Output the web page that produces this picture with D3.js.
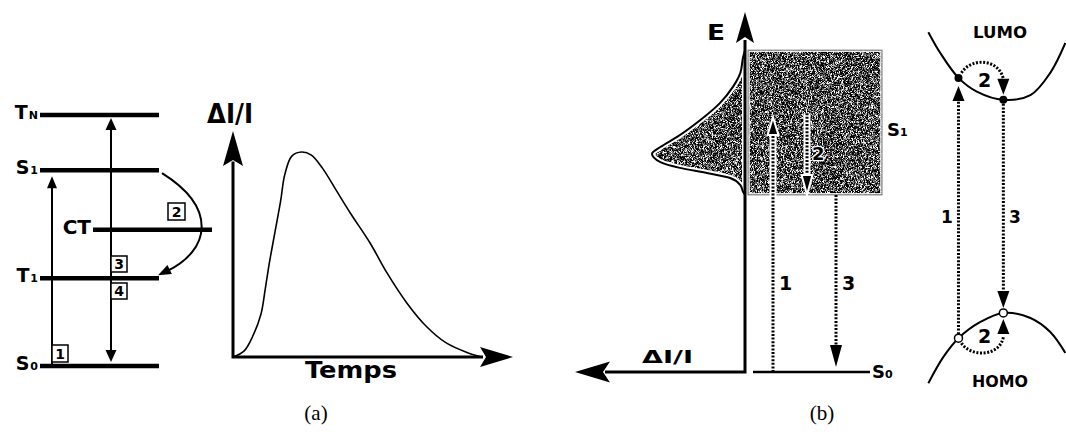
<!DOCTYPE html>
<html>
<head>
<meta charset="utf-8">
<script src="https://cdn.jsdelivr.net/npm/d3@7"></script>
<style>
  html, body { margin: 0; padding: 0; background: #fff; }
  svg { display: block; }
  text { font-family: "DejaVu Sans", sans-serif; font-weight: bold; fill: #000; }
  text.caption { font-family: "Liberation Serif", "DejaVu Serif", serif; font-weight: normal; }
</style>
</head>
<body>
<script>
// ---- (a) energy levels, relative to S0 ----
const levelNames = ["S0", "T1", "CT", "S1", "TN"];
const levelEnergy = [0, 1.40, 2.17, 3.12, 4.00];

// ---- (a) transient signal ΔI/I versus time ----
const transientTime   = [0, 0.4, 0.7, 1.0, 1.15, 1.3, 1.5, 1.7, 1.85, 2.1, 2.45, 2.8, 3.2, 3.7, 4.2, 4.9, 5.5, 6.2, 6.9, 7.6, 8.4, 8.9];
const transientSignal = [0, 0.03, 0.10, 0.21, 0.33, 0.46, 0.61, 0.76, 0.89, 0.98, 1.00, 0.985, 0.92, 0.81, 0.70, 0.555, 0.41, 0.265, 0.15, 0.07, 0.02, 0];

// ---- (b) S1 band and its ΔI/I profile ----
const bandEnergy    = [8.94, 8.75, 8.31, 7.92, 7.47, 7.00, 6.53, 6.25, 6.06, 5.83, 5.67, 5.53, 5.39, 5.19, 5.00, 4.92];
const bandIntensity = [0, 0.02, 0.05, 0.13, 0.27, 0.48, 0.73, 0.91, 1.00, 0.91, 0.70, 0.41, 0.16, 0.05, 0.02, 0];
const s1Band = [4.92, 8.94];
const s0Energy = 0;
// transitions 1 (excitation), 2 (relaxation), 3 (emission): [from, to]
const bandTransitions = [[0, 7.08], [7.19, 4.92], [4.92, 0]];

// ---- (b) LUMO / HOMO dispersion ----
const lumoK = [-2.19, -1.84, -1.31, -0.76, 0, 0.79, 1.37, 1.81];
const lumoE = [9.44, 8.86, 8.17, 7.78, 7.56, 7.69, 8.31, 9.14];
const homoK = [-2.19, -1.75, -1.31, -0.67, 0, 0.79, 1.37, 1.81];
const homoE = [-0.31, 0.42, 0.94, 1.39, 1.64, 1.50, 1.11, 0.53];
const excitationK = -1.31;
const emissionK = 0;

const W = 1066, H = 432;
const svg = d3.select("body").append("svg").attr("width", W).attr("height", H);
svg.append("rect").attr("width", W).attr("height", H).attr("fill", "#fff");

const defs = svg.append("defs");
const grain = defs.append("filter").attr("id", "grain")
  .attr("x", 0).attr("y", 0).attr("width", 1).attr("height", 1)
  .attr("color-interpolation-filters", "sRGB");
grain.append("feTurbulence").attr("type", "fractalNoise")
  .attr("baseFrequency", 2.2).attr("numOctaves", 1).attr("seed", 11).attr("result", "noise");
grain.append("feColorMatrix").attr("in", "noise").attr("type", "matrix")
  .attr("values", "4.2 0 0 0 -1.82  4.2 0 0 0 -1.82  4.2 0 0 0 -1.82  0 0 0 0 1").attr("result", "gray");
grain.append("feComposite").attr("in", "gray").attr("in2", "SourceAlpha").attr("operator", "in");

// filled arrowhead with its tip at (x, y), pointing along angle (degrees)
function head(g, x, y, angle, len, wid, notch, opts = {}) {
  g.append("path")
    .attr("d", `M0,0L${-len},${-wid / 2}L${-len + notch},0L${-len},${wid / 2}Z`)
    .attr("transform", `translate(${x},${y}) rotate(${angle})`)
    .attr("fill", opts.fill || "#000")
    .attr("stroke", opts.stroke || "none")
    .attr("stroke-width", opts.sw || 0);
}
function numberBox(g, x, y, w, h, label) {
  g.append("rect").attr("x", x).attr("y", y).attr("width", w).attr("height", h)
    .attr("fill", "#fff").attr("stroke", "#000").attr("stroke-width", 1.5);
  g.append("text").attr("x", x + w / 2).attr("y", y + h - 3).attr("text-anchor", "middle")
    .attr("font-size", 14).text(label);
}

// =================== (a) level diagram ===================
const gA = svg.append("g");
const yLevel = d3.scaleLinear().domain([0, 4]).range([366, 115]);
const levelSpan = { S0: [40, 159], T1: [40, 159], S1: [40, 159], TN: [40, 159], CT: [93, 212] };
const lv = {};
levelNames.forEach((n, i) => {
  const y = yLevel(levelEnergy[i]);
  lv[n] = y;
  const [x0, x1] = levelSpan[n];
  gA.append("line").attr("x1", x0).attr("x2", x1).attr("y1", y).attr("y2", y)
    .attr("stroke", "#000").attr("stroke-width", 4.5);
  const t = gA.append("text").attr("x", x0 - 2).attr("y", y + 4).attr("text-anchor", "end");
  if (n === "CT") {
    t.attr("font-size", 20).text("CT");
  } else {
    t.append("tspan").attr("font-size", 19).text(n[0]);
    t.append("tspan").attr("font-size", 11).attr("dx", 1).text(n.slice(1));
  }
});

// 1: S0 -> S1 absorption
gA.append("line").attr("x1", 52).attr("x2", 52).attr("y1", lv.S0 - 2).attr("y2", lv.S1 + 14)
  .attr("stroke", "#000").attr("stroke-width", 2);
head(gA, 52, lv.S1 + 6, -90, 12, 10, 0);
// 3/4: T1 -> TN and back to S0
gA.append("line").attr("x1", 111).attr("x2", 111).attr("y1", lv.TN + 12).attr("y2", lv.S0 - 14)
  .attr("stroke", "#000").attr("stroke-width", 2);
head(gA, 111, lv.TN + 3, -90, 12, 11, 0);
head(gA, 111, lv.S0 - 4, 90, 12, 11, 0);
// 2: S1 -> CT -> T1
gA.append("path")
  .attr("d", `M${levelSpan.S1[1] + 3},${lv.S1 + 3} C218,${lv.S1 + 38} 210,${lv.T1 - 28} 167,${lv.T1 - 7}`)
  .attr("fill", "none").attr("stroke", "#000").attr("stroke-width", 2);
head(gA, 158, lv.T1 - 3, 154, 13, 10, 0);

numberBox(gA, 52, 345, 16, 17, "1");
numberBox(gA, 168, 203, 17, 17, "2");
numberBox(gA, 111, 256, 16, 16, "3");
numberBox(gA, 111, 283, 16, 16, "4");

// =================== (a) transient ===================
const xT = d3.scaleLinear().domain([0, 10]).range([233, 513]);
const yT = d3.scaleLinear().domain([0, 1]).range([357, 152]);
gA.append("path")
  .attr("d", `M${xT(0)},${yT(1.1) + 30}V${yT(0)}H${xT(10) - 30}`)
  .attr("fill", "none").attr("stroke", "#000").attr("stroke-width", 3);
head(gA, xT(0), yT(1.1) - 0.5, -90, 35, 20, 6);
head(gA, xT(10), yT(0), 0, 33, 20, 6);
const transientLine = d3.line().x(d => xT(d[0])).y(d => yT(d[1])).curve(d3.curveCatmullRom);
gA.append("path").attr("d", transientLine(d3.zip(transientTime, transientSignal)))
  .attr("fill", "none").attr("stroke", "#000").attr("stroke-width", 1.6);
gA.append("text").attr("x", 207).attr("y", 123).attr("font-size", 26)
  .attr("textLength", 46).attr("lengthAdjust", "spacingAndGlyphs").text("ΔI/I");
gA.append("text").attr("x", 305).attr("y", 378).attr("font-size", 23)
  .attr("textLength", 92).attr("lengthAdjust", "spacingAndGlyphs").text("Temps");
svg.append("text").attr("class", "caption").attr("x", 316).attr("y", 420)
  .attr("text-anchor", "middle").attr("font-size", 21).text("(a)");

// =================== (b) band picture ===================
const gB = svg.append("g");
const yE = d3.scaleLinear().domain([0, 10]).range([372, 12]);
const xI = d3.scaleLinear().domain([0, 1]).range([745, 652]);

// ΔI/I profile of the S1 band
const profileLine = d3.line().x(d => xI(d[1])).y(d => yE(d[0])).curve(d3.curveMonotoneY);
const profile = profileLine(d3.zip(bandEnergy, bandIntensity)) + "Z";
defs.append("clipPath").attr("id", "profileClip").append("path").attr("d", profile);
gB.append("path").attr("d", profile).attr("fill", "#555").attr("filter", "url(#grain)");
gB.append("path").attr("d", profile).attr("fill", "none").attr("stroke", "#fff")
  .attr("stroke-width", 6).attr("clip-path", "url(#profileClip)");
gB.append("path").attr("d", profileLine(d3.zip(bandEnergy, bandIntensity)))
  .attr("fill", "none").attr("stroke", "#000").attr("stroke-width", 2);

// S1 band
const boxX = 748, boxW = 134;
const boxY = yE(s1Band[1]), boxH = yE(s1Band[0]) - yE(s1Band[1]);
gB.append("rect").attr("x", boxX).attr("y", boxY).attr("width", boxW).attr("height", boxH)
  .attr("fill", "#555").attr("filter", "url(#grain)");
gB.append("rect").attr("x", boxX + 1).attr("y", boxY + 1).attr("width", boxW - 2).attr("height", boxH - 2)
  .attr("fill", "none").attr("stroke", "#fff").attr("stroke-width", 1.5);
gB.append("rect").attr("x", boxX).attr("y", boxY).attr("width", boxW).attr("height", boxH)
  .attr("fill", "none").attr("stroke", "#777").attr("stroke-width", 1);

// axes
gB.append("path").attr("d", `M${xI(0)},${yE(10) + 28}V${yE(0)}H${575 + 30}`)
  .attr("fill", "none").attr("stroke", "#000").attr("stroke-width", 3);
head(gB, xI(0), yE(10), -90, 31, 18, 6);
head(gB, 575, yE(0), 180, 35, 21, 7);

// dotted transitions
function dotted(g, x, y1, tip, dir, halo, hl, hw) {
  const yEnd = tip - dir * (hl - 2);
  if (halo) {
    g.append("line").attr("x1", x).attr("x2", x).attr("y1", y1).attr("y2", yEnd)
      .attr("stroke", "#fff").attr("stroke-width", 7);
  }
  g.append("line").attr("x1", x).attr("x2", x).attr("y1", y1).attr("y2", yEnd)
    .attr("stroke", "#000").attr("stroke-width", 3).attr("stroke-dasharray", "2 1.6");
  head(g, x, tip, dir > 0 ? 90 : -90, hl, hw, 0, halo ? { stroke: "#fff", sw: 2 } : {});
}
const bandX = [773, 807, 836];
dotted(gB, bandX[0], yE(bandTransitions[0][0]), yE(bandTransitions[0][1]), -1, true, 18, 11);
dotted(gB, bandX[1], yE(bandTransitions[1][0]), yE(bandTransitions[1][1]), 1, true, 20, 11);
dotted(gB, bandX[2], yE(bandTransitions[2][0]), yE(bandTransitions[2][1]) - 5, 1, false, 22, 12);

// S0 level
gB.append("line").attr("x1", 753).attr("x2", 870).attr("y1", yE(s0Energy)).attr("y2", yE(s0Energy))
  .attr("stroke", "#000").attr("stroke-width", 2.5);

gB.append("text").attr("x", 707).attr("y", 40).attr("font-size", 21)
  .attr("textLength", 18).attr("lengthAdjust", "spacingAndGlyphs").text("E");
gB.append("text").attr("x", 642).attr("y", 363).attr("font-size", 18)
  .attr("textLength", 51).attr("lengthAdjust", "spacingAndGlyphs").text("ΔI/I");
gB.append("text").attr("x", 779).attr("y", 290).attr("font-size", 19).text("1");
// label 2 sits on the grainy band, so give it a light halo
gB.append("text").attr("x", 812).attr("y", 160).attr("font-size", 18)
  .attr("stroke", "#fff").attr("stroke-width", 2.5).attr("stroke-linejoin", "round").text("2");
gB.append("text").attr("x", 812).attr("y", 160).attr("font-size", 18).text("2");
gB.append("text").attr("x", 842).attr("y", 290).attr("font-size", 19).text("3");
const s1Lab = gB.append("text").attr("x", 887).attr("y", 136);
s1Lab.append("tspan").attr("font-size", 18).text("S");
s1Lab.append("tspan").attr("font-size", 11).text("1");
const s0Lab = gB.append("text").attr("x", 872).attr("y", 378);
s0Lab.append("tspan").attr("font-size", 18).text("S");
s0Lab.append("tspan").attr("font-size", 11).text("0");

// =================== (b) LUMO / HOMO ===================
const gC = svg.append("g");
const xK = d3.scaleLinear().domain([-2.2, 1.8]).range([928, 1065]);
const bandLine = d3.line().x(d => xK(d[0])).y(d => yE(d[1])).curve(d3.curveCatmullRom);
gC.append("path").attr("d", bandLine(d3.zip(lumoK, lumoE)))
  .attr("fill", "none").attr("stroke", "#000").attr("stroke-width", 2);
gC.append("path").attr("d", bandLine(d3.zip(homoK, homoE)))
  .attr("fill", "none").attr("stroke", "#000").attr("stroke-width", 2);

const eAt = (ks, es, k) => es[ks.indexOf(k)];
const lx1 = xK(excitationK), ly1 = yE(eAt(lumoK, lumoE, excitationK));
const lx2 = xK(emissionK),   ly2 = yE(eAt(lumoK, lumoE, emissionK));
const hx1 = xK(excitationK), hy1 = yE(eAt(homoK, homoE, excitationK));
const hx2 = xK(emissionK),   hy2 = yE(eAt(homoK, homoE, emissionK));

function dotLine(g, d) {
  g.append("path").attr("d", d).attr("fill", "none").attr("stroke", "#000")
    .attr("stroke-width", 3).attr("stroke-dasharray", "2 1.6");
}
// 1: excitation HOMO -> LUMO
dotLine(gC, `M${hx1},${hy1 - 4}V${ly1 + 20}`);
head(gC, hx1, ly1 + 8, -90, 15, 12, 0);
// 3: emission LUMO -> HOMO
dotLine(gC, `M${lx2},${ly2 + 4}V${hy2 - 22}`);
head(gC, lx2, hy2 - 5, 90, 17, 12, 0);
// 2: relaxation within each band
dotLine(gC, `M${lx1 + 3},${ly1 - 5}C${lx1 + 12},${ly1 - 20} ${lx2 - 5},${ly1 - 20} ${lx2},${ly1 + 1}`);
head(gC, lx2, ly2 - 5, 90, 16, 12, 0);
dotLine(gC, `M${hx1 + 3},${hy1 + 5}C${hx1 + 12},${hy1 + 19} ${hx2 - 4},${hy1 + 19} ${hx2},${hy1 - 1}`);
head(gC, hx2, hy2 + 6, -90, 15, 12, 0);

[[lx1, ly1], [lx2, ly2]].forEach(([x, y]) =>
  gC.append("circle").attr("cx", x).attr("cy", y).attr("r", 4).attr("fill", "#000"));
[[hx1, hy1], [hx2, hy2]].forEach(([x, y]) =>
  gC.append("circle").attr("cx", x).attr("cy", y).attr("r", 4).attr("fill", "#fff")
    .attr("stroke", "#000").attr("stroke-width", 1.5));

gC.append("text").attr("x", 973).attr("y", 38).attr("font-size", 15)
  .attr("textLength", 54).attr("lengthAdjust", "spacingAndGlyphs").text("LUMO");
gC.append("text").attr("x", 972).attr("y", 387).attr("font-size", 15)
  .attr("textLength", 56).attr("lengthAdjust", "spacingAndGlyphs").text("HOMO");
gC.append("text").attr("x", 941).attr("y", 223).attr("font-size", 17).text("1");
gC.append("text").attr("x", 1009).attr("y", 223).attr("font-size", 17).text("3");
gC.append("text").attr("x", 978).attr("y", 87).attr("font-size", 19).text("2");
gC.append("text").attr("x", 978).attr("y", 343).attr("font-size", 19).text("2");

svg.append("text").attr("class", "caption").attr("x", 822).attr("y", 420)
  .attr("text-anchor", "middle").attr("font-size", 21).text("(b)");
</script>
</body>
</html>
